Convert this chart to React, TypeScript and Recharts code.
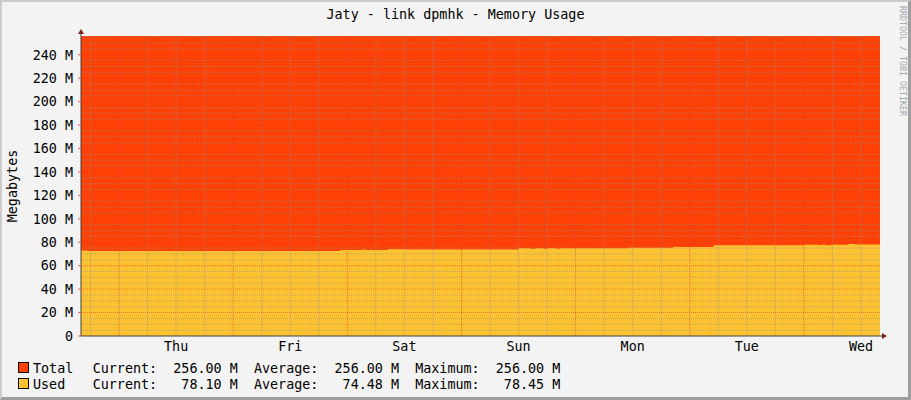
import React from "react";
import { ComposedChart, Area, XAxis, YAxis, ReferenceLine, ReferenceDot } from "recharts";

// one week, hour 0 = Wed 16:00
const HOURS = 168;
const TOTAL_MB = 256;

const dayTicks = [20, 44, 68, 92, 116, 140, 164];
const dayLabels = ["Thu", "Fri", "Sat", "Sun", "Mon", "Tue", "Wed"];
const midnights = [8, 32, 56, 80, 104, 128, 152];
const sixHourMarks = [2, 14, 20, 26, 38, 44, 50, 62, 68, 74, 86, 92, 98, 110, 116, 122, 134, 140, 146, 158, 164];

const yTicks = [0, 20, 40, 60, 80, 100, 120, 140, 160, 180, 200, 220, 240];

// memory used
const usedHours = [0, 1.3, 54.5, 59.2, 59.7, 64.5, 68, 92, 94.5, 95.5, 97.3, 98, 100, 100.8, 115, 124.5, 125.6, 133, 152, 154.8, 155.6, 156.6, 157.8, 161.3, 162.7, 168];
const usedValues = [72.9, 72.6, 73.4, 74.0, 73.4, 74.0, 73.8, 74.8, 74.4, 74.8, 74.4, 74.8, 74.5, 74.8, 75.4, 76.2, 76.0, 77.4, 77.9, 77.6, 77.9, 77.5, 77.9, 78.45, 78.0, 78.1];

const legendNames = ["Total", "Used"];
const legendColors = ["#FF4105", "#FFC332"];
const currentValues = [256.0, 78.1];
const averageValues = [256.0, 74.48];
const maximumValues = [256.0, 78.45];

const FONT = "'DejaVu Sans Mono', monospace";

const rows = usedHours.map((h, i) => ({ h, used: usedValues[i], total: TOTAL_MB }));

const minorY: number[] = [];
yTicks.forEach((t) => {
  [5, 10, 15].forEach((d) => {
    if (t + d < TOTAL_MB) minorY.push(t + d);
  });
});

const fmt = (v: number) => (v.toFixed(2) + " M").padStart(8, " ");

const UpArrow = (props: any) => {
  const { cx, cy } = props;
  return (
    <g>
      <line x1={cx} y1={cy} x2={cx} y2={cy - 4} stroke="#404040" />
      <path d={`M${cx - 3},${cy - 2} L${cx + 3},${cy - 2} L${cx},${cy - 7} Z`} fill="#7F1F1F" />
    </g>
  );
};

const RightArrow = (props: any) => {
  const { cx, cy } = props;
  return (
    <g>
      <line x1={cx} y1={cy} x2={cx + 4} y2={cy} stroke="#404040" />
      <path d={`M${cx + 2},${cy - 3} L${cx + 2},${cy + 3} L${cx + 7},${cy} Z`} fill="#7F1F1F" />
    </g>
  );
};

export default function App() {
  return (
    <div style={{ position: "absolute", left: 0, top: 0, width: 911, height: 400, background: "#F3F3F3" }}>
      <ComposedChart
        width={911}
        height={400}
        data={rows}
        margin={{ top: 36, right: 31, bottom: 44, left: 0 }}
        style={{ position: "absolute", left: 0, top: 0 }}
      >
        <XAxis
          dataKey="h"
          type="number"
          domain={[0, HOURS]}
          ticks={dayTicks}
          tickFormatter={(v: number) => dayLabels[dayTicks.indexOf(v)]}
          height={20}
          tickLine={false}
          tickSize={2}
          tickMargin={3}
          axisLine={{ stroke: "#404040" }}
          tick={{ fill: "#000", fontFamily: FONT, fontSize: 13.4 }}
          allowDataOverflow
        />
        <YAxis
          type="number"
          domain={[0, TOTAL_MB]}
          ticks={yTicks}
          tickFormatter={(v: number) => (v === 0 ? "0" : `${v} M`)}
          width={81}
          tickSize={3}
          tickMargin={5}
          tickLine={{ stroke: "#E06060" }}
          axisLine={{ stroke: "#404040" }}
          tick={{ fill: "#000", fontFamily: FONT, fontSize: 13.4 }}
          allowDataOverflow
        />
        <Area
          type="stepAfter"
          dataKey="total"
          fill="#FF4105"
          fillOpacity={1}
          stroke="none"
          dot={false}
          activeDot={false}
          isAnimationActive={false}
        />
        <Area
          type="stepAfter"
          dataKey="used"
          fill="#FFC332"
          fillOpacity={1}
          stroke="none"
          dot={false}
          activeDot={false}
          isAnimationActive={false}
        />
        {minorY.map((v) => (
          <ReferenceLine key={`my${v}`} y={v} stroke="#8C8C8C" strokeOpacity={0.6} strokeDasharray="1 1" />
        ))}
        {sixHourMarks.map((v) => (
          <ReferenceLine key={`mx${v}`} x={v} stroke="#8C8C8C" strokeOpacity={0.6} strokeDasharray="1 1" />
        ))}
        {yTicks.filter((v) => v > 0).map((v) => (
          <ReferenceLine key={`My${v}`} y={v} stroke="#E83030" strokeOpacity={0.55} strokeDasharray="1 1" />
        ))}
        {midnights.map((v) => (
          <ReferenceLine key={`Mx${v}`} x={v} stroke="#E83030" strokeOpacity={0.55} strokeDasharray="1 1" />
        ))}
        <ReferenceDot x={0} y={TOTAL_MB} r={0} ifOverflow="visible" shape={UpArrow} />
        <ReferenceDot x={HOURS} y={0} r={0} ifOverflow="visible" shape={RightArrow} />
      </ComposedChart>

      <svg
        width={911}
        height={400}
        style={{ position: "absolute", left: 0, top: 0, pointerEvents: "none" }}
        fontFamily={FONT}
      >
        <text x={455.5} y={19} fontSize={13.4} textAnchor="middle" fill="#000">
          Jaty - link dpmhk - Memory Usage
        </text>
        <text x={16.5} y={186} fontSize={13.4} textAnchor="middle" fill="#000" transform="rotate(-90 16.5 186)">
          Megabytes
        </text>
        <text x={899.5} y={6} fontSize={8.3} fill="#A8A8A8" transform="rotate(90 899.5 6)">
          RRDTOOL / TOBI OETIKER
        </text>
        {legendNames.map((name, i) => (
          <g key={name}>
            <rect x={18.5} y={362.5 + i * 16} width={10} height={10} fill={legendColors[i]} stroke="#000" />
            <text x={33} y={373 + i * 16} fontSize={13.4} fill="#000">
              {name}
            </text>
            <text x={92.7} y={373 + i * 16} fontSize={13.4} fill="#000" style={{ whiteSpace: "pre" }}>
              {`Current:  ${fmt(currentValues[i])}  Average:  ${fmt(averageValues[i])}  Maximum:  ${fmt(maximumValues[i])}`}
            </text>
          </g>
        ))}
      </svg>

      <div
        style={{
          position: "absolute",
          left: 0,
          top: 0,
          width: 911,
          height: 400,
          boxSizing: "border-box",
          borderLeft: "2px solid #CBCBCB",
          borderTop: "2px solid #CBCBCB",
          borderRight: "3px solid #9E9E9E",
          borderBottom: "3px solid #9E9E9E",
          pointerEvents: "none",
        }}
      />
    </div>
  );
}
